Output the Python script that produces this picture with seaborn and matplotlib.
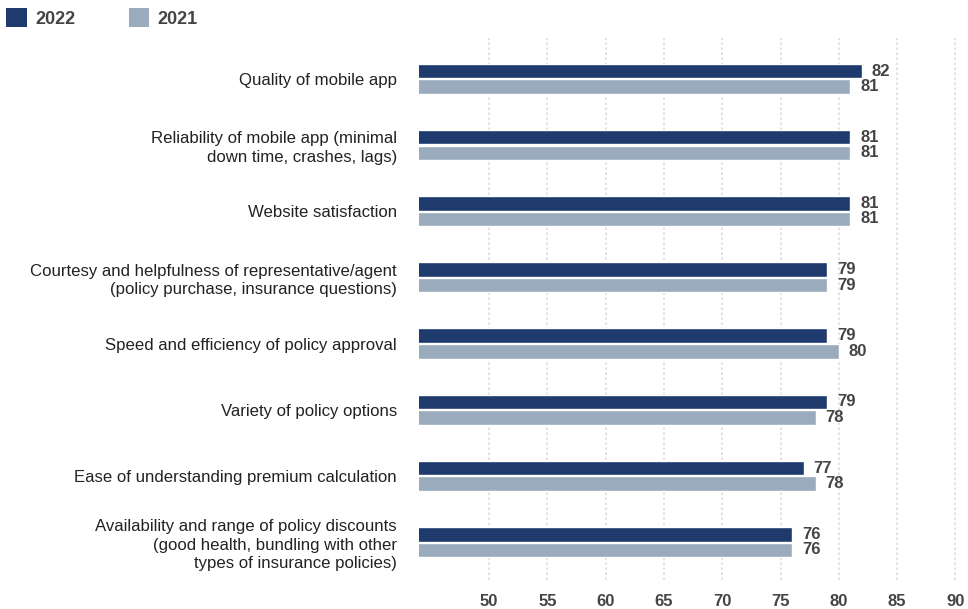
import matplotlib
matplotlib.use("Agg")
import matplotlib.pyplot as plt
from matplotlib.patches import Patch
import seaborn as sns
import pandas as pd

categories = [
    "Quality of mobile app",
    "Reliability of mobile app (minimal\ndown time, crashes, lags)",
    "Website satisfaction",
    "Courtesy and helpfulness of representative/agent\n(policy purchase, insurance questions)",
    "Speed and efficiency of policy approval",
    "Variety of policy options",
    "Ease of understanding premium calculation",
    "Availability and range of policy discounts\n(good health, bundling with other\ntypes of insurance policies)",
]
scores_2022 = [82, 81, 81, 79, 79, 79, 77, 76]
scores_2021 = [81, 81, 81, 79, 80, 78, 78, 76]
years = ["2022", "2021"]
x_ticks = [50, 55, 60, 65, 70, 75, 80, 85, 90]

palette = {"2022": "#1f3a6d", "2021": "#9aabbe"}

df = pd.DataFrame({
    "category": categories * 2,
    "year": ["2022"] * len(categories) + ["2021"] * len(categories),
    "score": scores_2022 + scores_2021,
})

sns.set_theme(style="white")
plt.rcParams["font.family"] = ["Liberation Sans", "DejaVu Sans"]

fig = plt.figure(figsize=(9.68, 6.09), dpi=100)
ax = fig.add_axes([0.433, 0.048, 0.560, 0.890])

sns.barplot(data=df, y="category", x="score", hue="year", hue_order=years,
            order=categories, palette=palette, orient="h",
            width=0.47, gap=0.07, ax=ax, legend=False, saturation=1)

for container in ax.containers:
    ax.bar_label(container, fmt="%d", padding=7, fontsize=12,
                 fontweight="bold", color="#444444")

ax.set_xlim(44, 90.5)
ax.set_ylim(7.57, -0.62)
ax.set_xticks(x_ticks)
ax.set_xticklabels([str(t) for t in x_ticks], fontsize=12,
                   fontweight="bold", color="#444444")
ax.tick_params(axis="x", length=0, pad=10)
ax.tick_params(axis="y", length=0, pad=16, labelsize=12.1, labelcolor="#222222")
for lbl in ax.get_yticklabels():
    lbl.set_linespacing(1.3)
ax.set_xlabel("")
ax.set_ylabel("")
ax.grid(axis="x", linestyle=(0, (1.5, 1.5)), color="#dddddd", linewidth=1.2)
ax.set_axisbelow(True)
for s in ax.spines.values():
    s.set_visible(False)

handles = [Patch(facecolor=palette[y], edgecolor="none", label=y) for y in years]
leg = fig.legend(handles=handles, loc="upper left", bbox_to_anchor=(0.001, 0.995),
                 ncol=2, frameon=False, handlelength=1.15, handleheight=1.2,
                 handletextpad=0.45, columnspacing=2.95, borderaxespad=0.0,
                 borderpad=0.3,
                 prop={"size": 13, "weight": "bold"})
for t in leg.get_texts():
    t.set_color("#444444")

fig.savefig("out.png", dpi=100)
